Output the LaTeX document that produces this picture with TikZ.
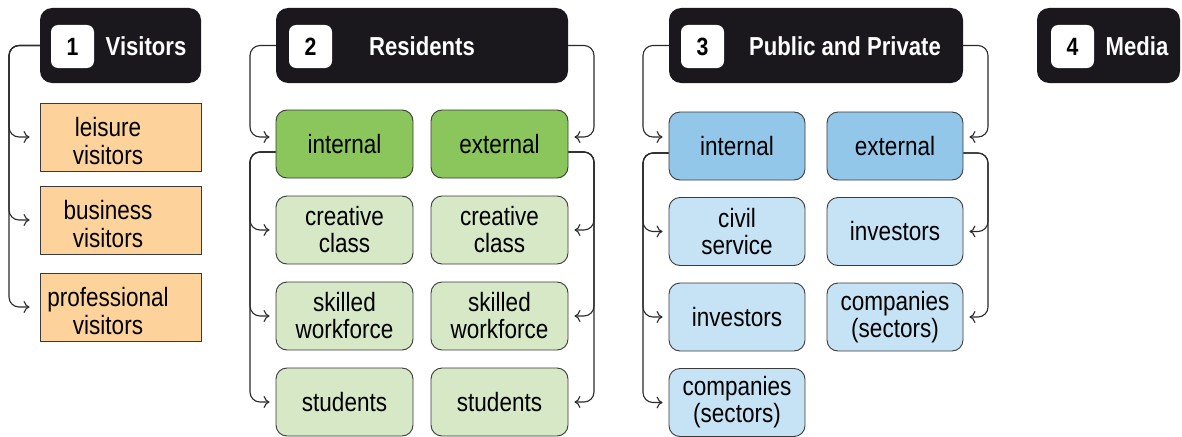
\documentclass[tikz,border=0pt]{standalone}
\usepackage{fontspec}
\setmainfont{Liberation Sans}[FakeStretch=0.85]
\usetikzlibrary{arrows.meta}
\definecolor{headc}{HTML}{1A181D}
\definecolor{edgec}{HTML}{3A3A3A}
\definecolor{linec}{HTML}{2A2A2A}
\definecolor{orangec}{HTML}{FDD39B}
\definecolor{gdark}{HTML}{8AC65B}
\definecolor{glight}{HTML}{D6E8C5}
\definecolor{bdark}{HTML}{93C7EA}
\definecolor{blight}{HTML}{C6E3F5}
\begin{document}
\begin{tikzpicture}[x=1pt,y=-1pt,
  head/.style={fill=headc, rounded corners=12pt, minimum height=75pt, inner sep=0pt},
  numbox/.style={fill=white, rounded corners=7pt, minimum width=43pt, minimum height=43pt, inner sep=0pt, font=\fontsize{25}{27}\selectfont\bfseries},
  title/.style={text=white, inner sep=0pt, font=\fontsize{26}{28}\selectfont\bfseries},
  cell/.style={rounded corners=11pt, draw=edgec, line width=0.9pt, minimum width=137pt, minimum height=68pt, inner sep=0pt, align=center, font=\fontsize{26.5}{27}\selectfont},
  visbox/.style={draw=edgec, line width=0.9pt, fill=orangec, minimum width=161pt, minimum height=68pt, inner sep=0pt},
  vistext/.style={align=center, inner sep=0pt, font=\fontsize{26.5}{28}\selectfont},
  conn/.style={draw=linec, line width=1.1pt, rounded corners=10pt, -{To[length=6pt,width=12pt]}, shorten >=6pt}
]
\useasboundingbox (0,0) rectangle (1182,436);

% ---------- 1 Visitors ----------
\node[head, minimum width=161pt] (h1) at (120.5,45.5) {};
\node[numbox] (n1) at (72.5,46.5) {1};
\node[title] (t1) at (146,46) {Visitors};
\node[visbox] (v1) at (120.5,137) {};
\node[vistext] (v1t) at (108,141) {leisure\\visitors};
\node[visbox] (v2) at (120.5,220) {};
\node[vistext] (v2t) at (108,224) {business\\visitors};
\node[visbox] (v3) at (120.5,307) {};
\node[vistext] (v3t) at (108,311) {professional\\visitors};

\coordinate (tv) at (9,0);
\foreach \b in {v1,v2,v3}{
  \draw[conn, shorten >=10pt] (h1.west) -| (tv |- \b.west) -- (\b.west);
}

% ---------- 2 Residents ----------
\node[head, minimum width=292pt] (h2) at (422,45.5) {};
\node[numbox] (n2) at (310.5,46.5) {2};
\node[title] (t2) at (422,46) {Residents};

\node[cell, fill=gdark] (i2) at (344.5,144) {internal};
\node[cell, fill=gdark] (e2) at (499.5,144) {external};
\node[cell, fill=glight] (i2a) at (344.5,230) {creative\\class};
\node[cell, fill=glight] (i2b) at (344.5,316) {skilled\\workforce};
\node[cell, fill=glight] (i2c) at (344.5,402) {students};
\node[cell, fill=glight] (e2a) at (499.5,230) {creative\\class};
\node[cell, fill=glight] (e2b) at (499.5,316) {skilled\\workforce};
\node[cell, fill=glight] (e2c) at (499.5,402) {students};

\coordinate (tr2l) at (250,0);
\coordinate (tr2r) at (594,0);
\coordinate (i2in) at ([yshift=7pt]i2.west);
\coordinate (i2out) at ([yshift=-8pt]i2.west);
\coordinate (e2in) at ([yshift=7pt]e2.east);
\coordinate (e2out) at ([yshift=-8pt]e2.east);
\draw[conn] (h2.west) -| (tr2l |- i2in) -- (i2in);
\draw[conn] (h2.east) -| (tr2r |- e2in) -- (e2in);
\foreach \b in {i2a,i2b,i2c}{
  \draw[conn] (i2out) -| (tr2l |- \b.west) -- (\b.west);
}
\foreach \b in {e2a,e2b,e2c}{
  \draw[conn] (e2out) -| (tr2r |- \b.east) -- (\b.east);
}

% ---------- 3 Public and Private ----------
\node[head, minimum width=294pt] (h3) at (816,45.5) {};
\node[numbox] (n3) at (702.5,46.5) {3};
\node[title] (t3) at (845,46) {Public and Private};

\node[cell, fill=bdark, minimum width=136pt] (i3) at (737,146) {internal};
\node[cell, fill=bdark, minimum width=136pt] (e3) at (895,146) {external};
\node[cell, fill=blight, minimum width=136pt] (i3a) at (737,231.5) {civil\\service};
\node[cell, fill=blight, minimum width=136pt] (i3b) at (737,317) {investors};
\node[cell, fill=blight, minimum width=136pt] (i3c) at (737,402.5) {companies\\(sectors)};
\node[cell, fill=blight, minimum width=136pt] (e3a) at (895,231.5) {investors};
\node[cell, fill=blight, minimum width=136pt] (e3b) at (895,317) {companies\\(sectors)};

\coordinate (tr3l) at (643,0);
\coordinate (tr3r) at (988,0);
\coordinate (i3in) at ([yshift=9pt]i3.west);
\coordinate (i3out) at ([yshift=-7pt]i3.west);
\coordinate (e3in) at ([yshift=9pt]e3.east);
\coordinate (e3out) at ([yshift=-7pt]e3.east);
\draw[conn] (h3.west) -| (tr3l |- i3in) -- (i3in);
\draw[conn] (h3.east) -| (tr3r |- e3in) -- (e3in);
\foreach \b in {i3a,i3b,i3c}{
  \draw[conn] (i3out) -| (tr3l |- \b.west) -- (\b.west);
}
\foreach \b in {e3a,e3b}{
  \draw[conn] (e3out) -| (tr3r |- \b.east) -- (\b.east);
}

% ---------- 4 Media ----------
\node[head, minimum width=143pt] (h4) at (1108.5,45.5) {};
\node[numbox] (n4) at (1072.5,46.5) {4};
\node[title] (t4) at (1137,46) {Media};
\end{tikzpicture}
\end{document}
